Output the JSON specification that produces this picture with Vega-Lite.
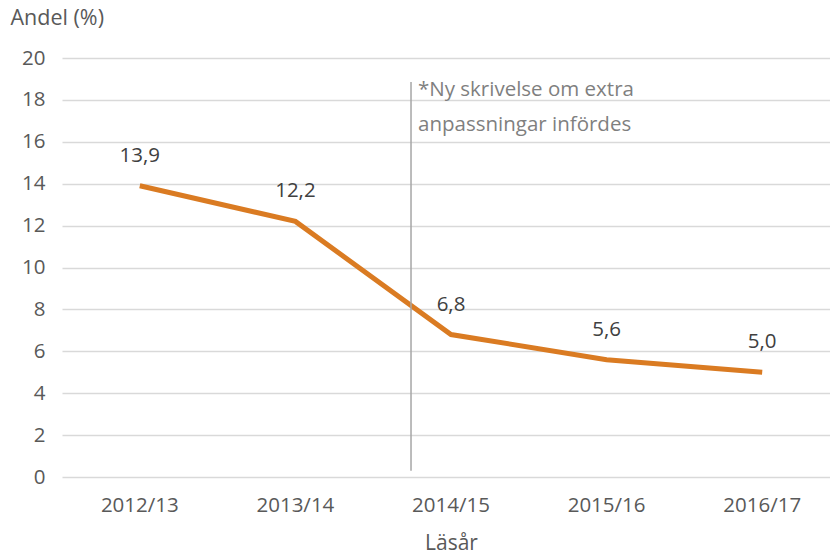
{
  "$schema": "https://vega.github.io/schema/vega-lite/v6.json",
  "width": 768,
  "height": 419,
  "autosize": {"type": "none"},
  "padding": {"left": 62, "top": 58, "right": 0, "bottom": 81},
  "background": "white",
  "config": {
    "view": {"stroke": null},
    "font": "Open Sans",
    "locale": {"number": {"decimal": ",", "thousands": " ", "grouping": [3], "currency": ["", " kr"]}}
  },
  "datasets": {
    "series": [
      {"year": "2012/13", "andel": 13.9},
      {"year": "2013/14", "andel": 12.2},
      {"year": "2014/15", "andel": 6.8},
      {"year": "2015/16", "andel": 5.6},
      {"year": "2016/17", "andel": 5.0}
    ],
    "note": [
      {"year": "2014/15", "y1": 0.3, "y2": 18.85, "ty": 18.45, "label": ["*Ny skrivelse om extra", "anpassningar infördes"]}
    ]
  },
  "layer": [
    {
      "data": {"name": "series"},
      "mark": {"type": "line", "color": "#DA7B22", "strokeWidth": 5, "strokeCap": "butt"},
      "encoding": {
        "x": {
          "field": "year", "type": "ordinal",
          "scale": {"type": "band", "paddingInner": 0, "paddingOuter": 0, "range": [0, 778]},
          "axis": {
            "title": "Läsår", "titleFont": "Open Sans", "titleFontSize": 21, "titleFontWeight": "normal", "titleColor": "#595959", "titlePadding": 17,
            "labelFontSize": 20.5, "labelColor": "#595959", "labelPadding": 18, "labelAngle": 0,
            "domain": false, "ticks": false, "grid": false
          }
        },
        "y": {
          "field": "andel", "type": "quantitative",
          "scale": {"domain": [0, 20]},
          "axis": {
            "values": [0, 2, 4, 6, 8, 10, 12, 14, 16, 18, 20],
            "title": "Andel (%)", "titleAngle": 0, "titleAlign": "left", "titleBaseline": "middle",
            "titleX": -52, "titleY": -40, "titleFontSize": 21.5, "titleFontWeight": "normal", "titleColor": "#595959",
            "labelFontSize": 20.5, "labelColor": "#595959", "labelPadding": 17,
            "domain": false, "ticks": false, "grid": true, "gridColor": "#D9D9D9", "gridWidth": 1.5
          }
        }
      }
    },
    {
      "data": {"name": "series"},
      "mark": {"type": "text", "fontSize": 20.5, "color": "#404040", "dy": -30, "baseline": "middle"},
      "encoding": {
        "x": {"field": "year", "type": "ordinal"},
        "y": {"field": "andel", "type": "quantitative"},
        "text": {"field": "andel", "type": "quantitative", "format": ".1f"}
      }
    },
    {
      "data": {"name": "note"},
      "mark": {"type": "rule", "color": "#A6A6A6", "strokeWidth": 1.5},
      "encoding": {
        "x": {"field": "year", "type": "ordinal", "bandPosition": 0.243},
        "y": {"field": "y1", "type": "quantitative"},
        "y2": {"field": "y2"}
      }
    },
    {
      "data": {"name": "note"},
      "mark": {"type": "text", "fontSize": 20.5, "letterSpacing": 1, "color": "#7F7F7F", "align": "left", "baseline": "middle", "dx": 7, "lineHeight": 35},
      "encoding": {
        "x": {"field": "year", "type": "ordinal", "bandPosition": 0.243},
        "y": {"field": "ty", "type": "quantitative"},
        "text": {"field": "label"}
      }
    }
  ]
}
